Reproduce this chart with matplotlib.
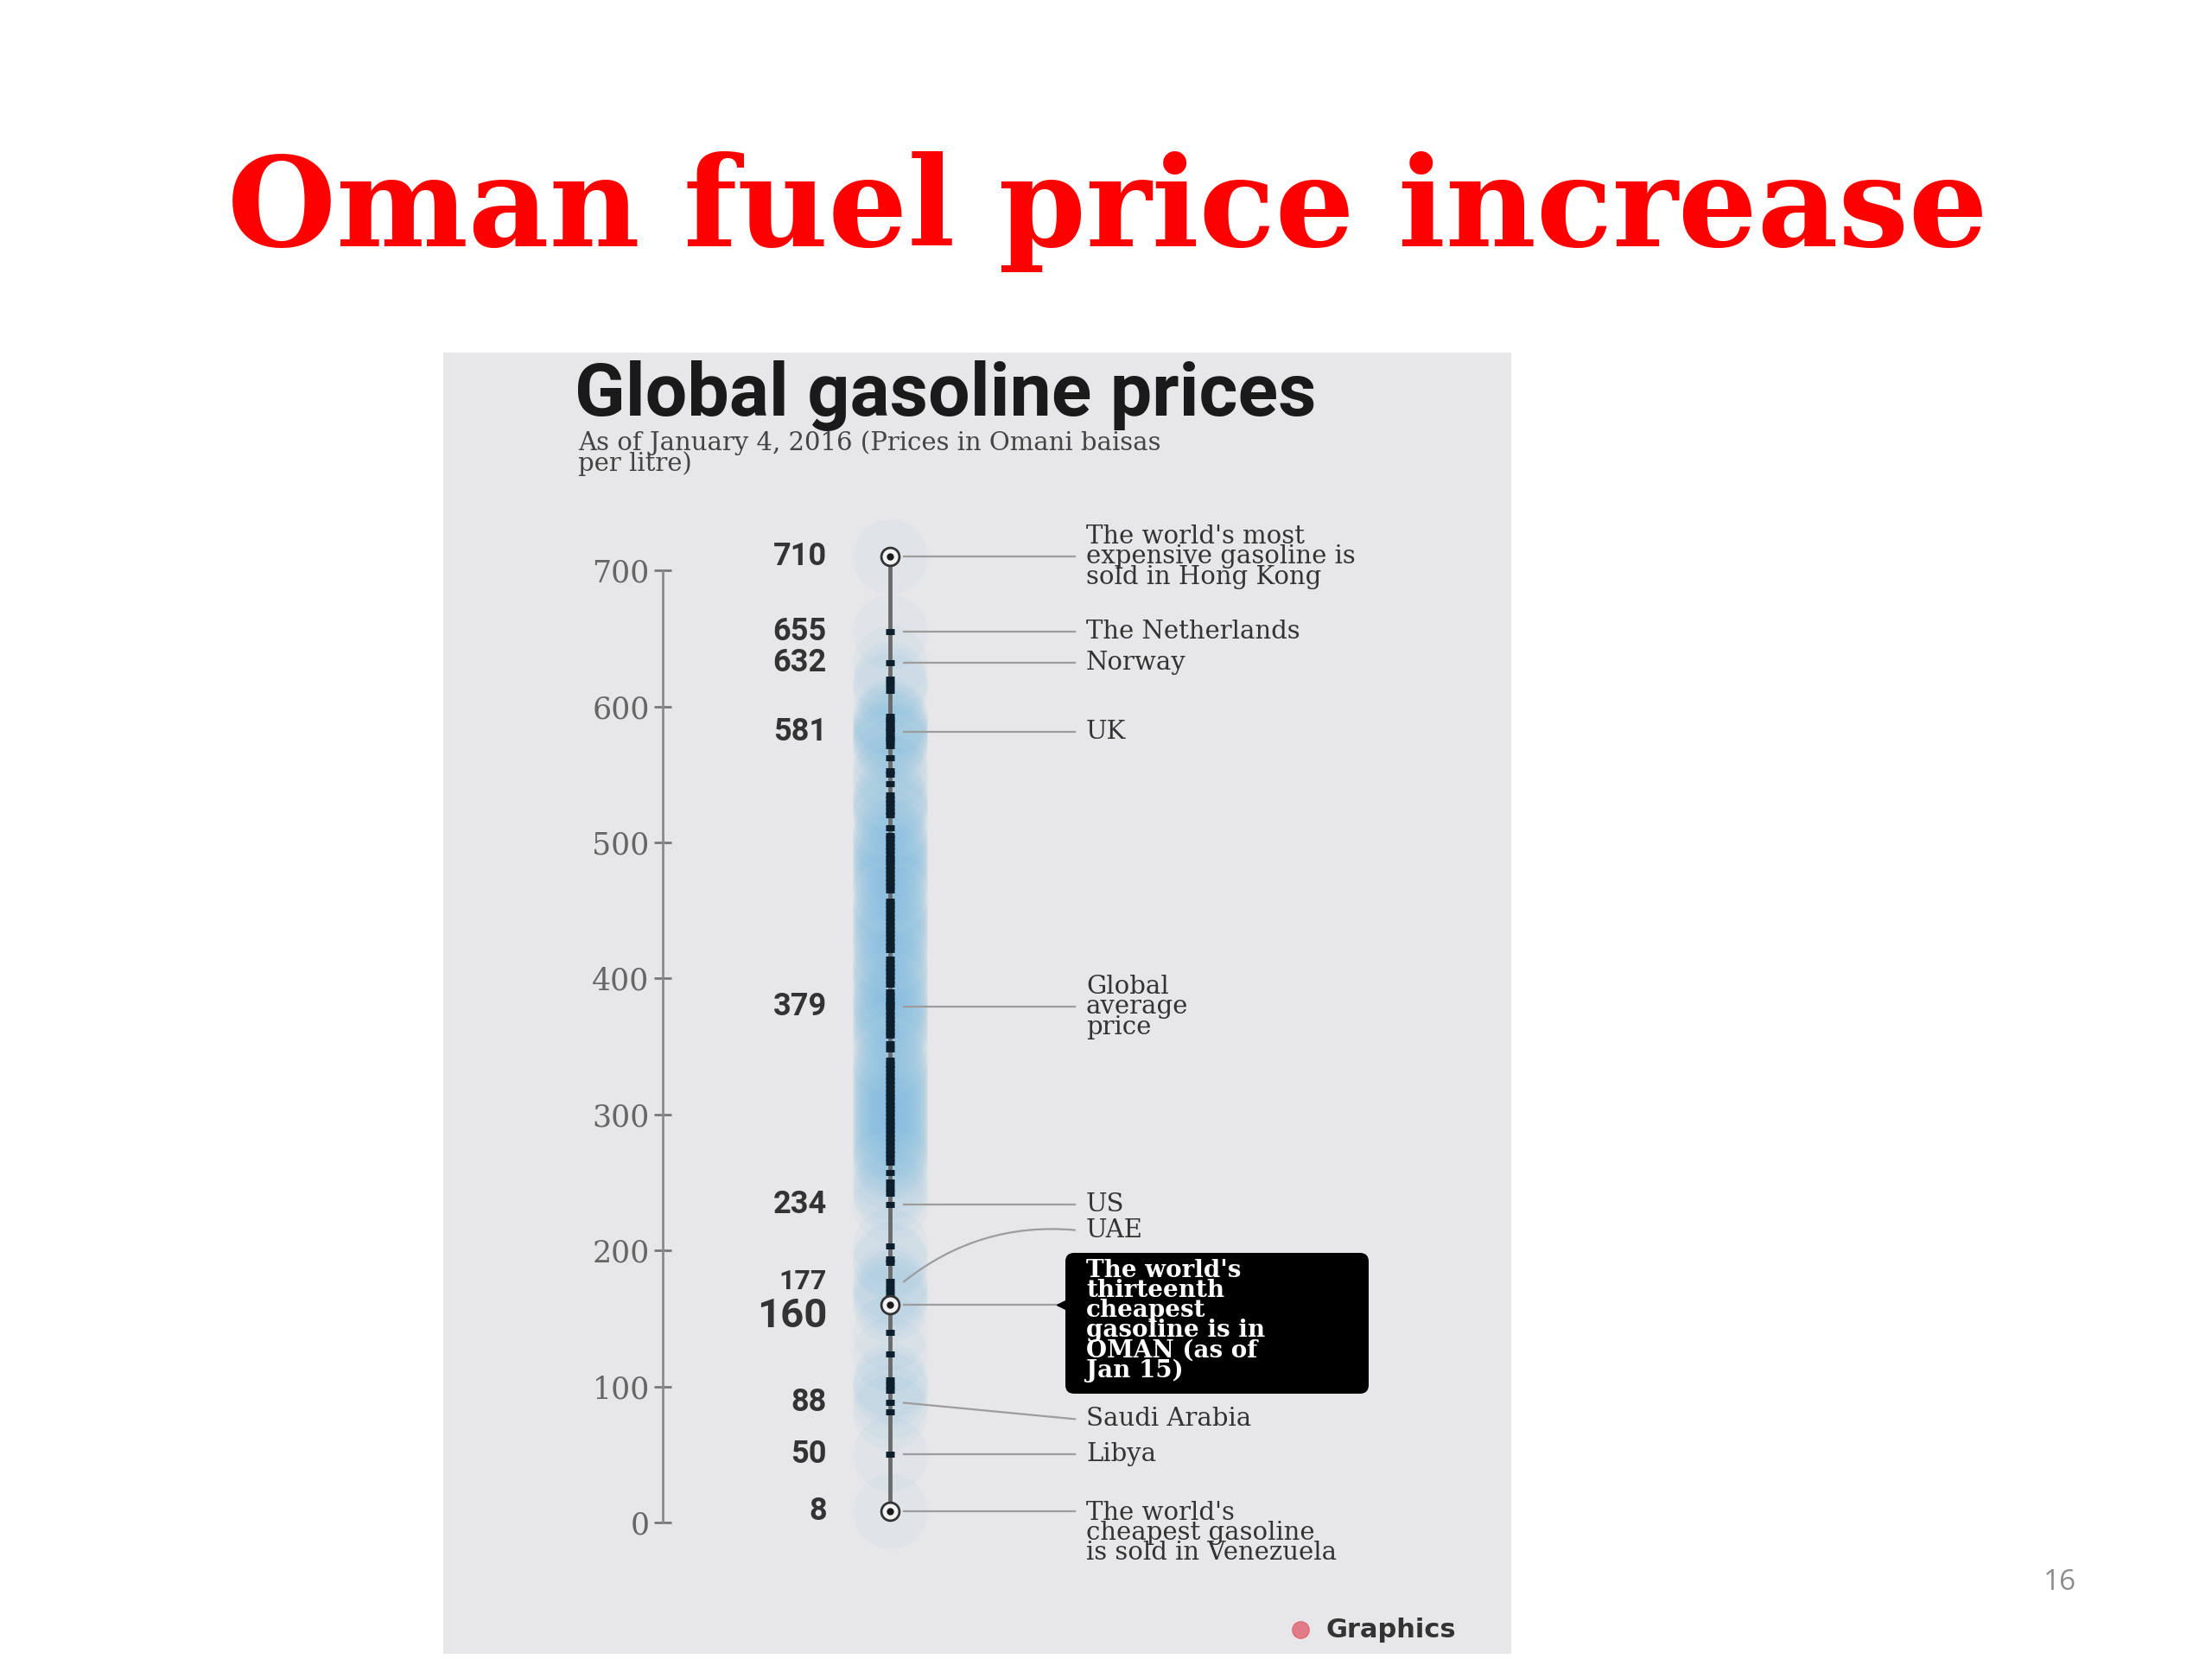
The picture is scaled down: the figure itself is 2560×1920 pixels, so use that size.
"""Slide 16: Oman fuel price increase - global gasoline price strip chart."""

import matplotlib

matplotlib.use("Agg")
import matplotlib.pyplot as plt
from matplotlib.patches import FancyBboxPatch

# gasoline prices, Omani baisas per litre (one dot per country)
prices = [
    710, 655, 632, 620, 616, 612,
    593, 590, 588, 585, 583, 581, 578, 576, 574, 571,
    562, 553, 550, 543, 535, 532, 529, 526, 523, 520, 511, 505,
    503, 500, 497, 494, 491, 488, 486, 483, 480, 477, 474, 471, 468, 465,
    457, 454, 451, 448, 445, 442, 439, 436, 433, 430, 427, 424, 421,
    414, 411, 408, 405, 402, 399, 396,
    390, 387, 384, 381, 379, 376, 373, 370, 367, 364, 361, 358,
    352, 348, 340, 337, 334, 331, 328, 325,
    322, 319, 316, 313, 310, 307, 304, 301, 298, 295, 292, 289, 286, 283,
    280, 277, 274, 271, 268, 265,
    257, 250, 246, 242, 234, 203, 194, 191, 177, 173, 169, 165, 160,
    140, 124, 105, 101, 97, 88, 81, 50, 8,
]
highlight = [710, 160, 8]
value_labels = [710, 655, 632, 581, 379, 234, 177, 160, 88, 50, 8]
axis_ticks = [0, 100, 200, 300, 400, 500, 600, 700]

# straight call-outs: (value, text)
callouts = [
    (710, "The world's most\nexpensive gasoline is\nsold in Hong Kong"),
    (655, "The Netherlands"),
    (632, "Norway"),
    (581, "UK"),
    (379, "Global\naverage\nprice"),
    (234, "US"),
    (50, "Libya"),
]
uae_value, uae_text = 177, "UAE"
saudi_value, saudi_text = 88, "Saudi Arabia"
oman_value = 160
oman_text = "The world's\nthirteenth\ncheapest\ngasoline is in\nOMAN (as of\nJan 15)"
venezuela_value = 8
venezuela_text = "The world's\ncheapest gasoline\nis sold in Venezuela"

W, H = 2560, 1920
PANEL = "#e7e7e9"
INK = "#333333"
LEAD = "#9c9c9c"
SERIF = "DejaVu Serif"
NOTE = 21  # call-out font size
NOTE_LS = 0.78

fig = plt.figure(figsize=(W / 100, H / 100), dpi=100)
fig.patch.set_facecolor("white")


def fx(px):
    return px / W


def fy(py):
    return 1 - py / H


fig.text(fx(1282), fy(245), "Oman fuel price increase", color="#ff0000",
         fontsize=104, fontweight="bold", family=SERIF, ha="center", va="center")
fig.text(fx(2384), fy(1832), "16", color="#8c8c8c", fontsize=24,
         family="Open Sans", ha="center", va="center")

# panel axes: x in image pixels, y in baisas
ax = fig.add_axes([fx(513), fy(1914), fx(1749 - 513), (1914 - 408) / H])
ax.set_facecolor(PANEL)
ax.set_xlim(513, 1749)
ax.set_ylim(-96.6, 860.2)

for side in ("top", "right", "bottom"):
    ax.spines[side].set_visible(False)
ax.spines["left"].set_position(("data", 767))
ax.spines["left"].set_bounds(0, 700)
ax.spines["left"].set_color("#8a8a8a")
ax.spines["left"].set_linewidth(2)
ax.set_xticks([])
ax.set_yticks(axis_ticks)
ax.set_yticklabels([str(t) for t in axis_ticks], family=SERIF, fontsize=25, color="#666666")
ax.tick_params(axis="y", direction="inout", length=14, width=2, color="#777777", pad=4)

ax.text(665, 814, "Global gasoline prices", family="Roboto", fontweight="bold",
        fontsize=62, color="#1a1a1a", ha="left", va="baseline")
ax.text(669, 803, "As of January 4, 2016 (Prices in Omani baisas\nper litre)",
        family=SERIF, fontsize=21, color="#444444", ha="left", va="top",
        linespacing=0.8)

X = 1030
# blue glow behind the dots
ax.scatter([X] * len(prices), prices, s=3900, color="#4aa8e0", alpha=0.045,
           linewidths=0, zorder=1)
ax.plot([X, X], [min(prices), max(prices)], color="#6b6b6b", lw=3.5, zorder=2)
ax.plot([X] * len(prices), prices, ls="none", marker="_", ms=7, mew=5,
        color="#0d1f2d", zorder=3)
ax.plot([X] * len(highlight), highlight, ls="none", marker="o", ms=15,
        mfc="#f2f2f2", mec="#333333", mew=2, zorder=4)
ax.plot([X] * len(highlight), highlight, ls="none", marker="o", ms=5,
        color="#1a1a1a", zorder=5)

for v in value_labels:
    size, dy = 26, 0
    if v == oman_value:
        size, dy = 34, -8
    elif v == uae_value:
        size = 23
    ax.text(957, v + dy, str(v), family="Roboto", fontweight="bold",
            fontsize=size, color=INK, ha="right", va="center")

TX0, TX1 = 1046, 1244
for v, txt in callouts:
    ax.plot([TX0, TX1], [v, v], color=LEAD, lw=1.6, zorder=2)
    ax.text(1257, v, txt, family=SERIF, fontsize=NOTE, color=INK,
            ha="left", va="center", linespacing=NOTE_LS)

ax.plot([TX0, TX1], [venezuela_value, venezuela_value], color=LEAD, lw=1.6, zorder=2)
ax.text(1257, venezuela_value + 8, venezuela_text, family=SERIF, fontsize=NOTE,
        color=INK, ha="left", va="top", linespacing=NOTE_LS)

# UAE: curved leader up to its label
ax.annotate("", xy=(TX1, 215), xytext=(TX0, uae_value),
            arrowprops=dict(arrowstyle="-", color=LEAD, lw=1.6,
                            connectionstyle="arc3,rad=-0.2", shrinkA=0, shrinkB=0))
ax.text(1257, 215, uae_text, family=SERIF, fontsize=NOTE, color=INK,
        ha="left", va="center")

# Saudi Arabia: slanted leader down to its label
ax.plot([TX0, TX1], [saudi_value, 76], color=LEAD, lw=1.6, zorder=2)
ax.text(1257, 76, saudi_text, family=SERIF, fontsize=NOTE, color=INK,
        ha="left", va="center")

# Oman: black call-out box
box = FancyBboxPatch((1233, 94.7), 351, 103.5,
                     boxstyle="round,pad=0,rounding_size=10",
                     mutation_aspect=1 / 1.574, fc="black", ec="none", zorder=3)
ax.add_patch(box)
ax.plot([TX0, 1233], [oman_value, oman_value], color=LEAD, lw=1.6, zorder=2)
ax.plot([1229], [oman_value], marker="<", ms=9, color="black", zorder=4)
ax.text(1257, 194, oman_text, family=SERIF, fontsize=20, fontweight="bold",
        color="white", ha="left", va="top", linespacing=0.82, zorder=5)

# source tag
ax.plot([1505], [-79], marker="o", ms=14, color="#e06070", alpha=0.8)
ax.text(1535, -79, "Graphics", family="DejaVu Sans", fontweight="bold",
        fontsize=22, color="#333333", ha="left", va="center")

fig.savefig("out.png", dpi=100)
plt.close(fig)
